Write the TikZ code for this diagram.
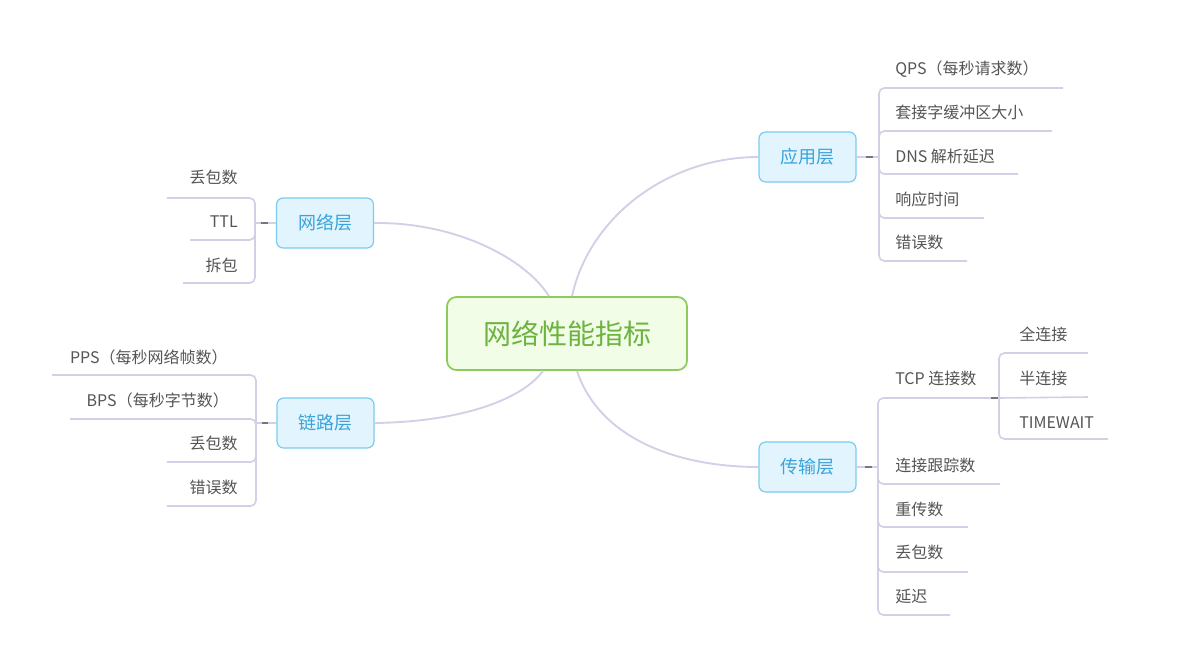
\documentclass[tikz,border=0pt]{standalone}
\usepackage{fontspec}
\setmainfont{Noto Sans CJK SC}
\usetikzlibrary{calc}
\definecolor{lav}{HTML}{D3CFE6}
\definecolor{txt}{HTML}{555555}
\definecolor{lblue}{HTML}{7CCBF0}
\definecolor{lfill}{HTML}{E2F4FD}
\definecolor{ltext}{HTML}{3AA3DB}
\definecolor{gborder}{HTML}{8DCB5C}
\definecolor{gfill}{HTML}{F1FDE6}
\definecolor{gtext}{HTML}{6CB33F}
\definecolor{knobc}{HTML}{777777}
\begin{document}
\begin{tikzpicture}[x=0.75pt,y=-0.75pt,
  lvl/.style={draw=lblue,fill=lfill,text=ltext,rounded corners=5pt,line width=0.9pt,
    minimum width=72.75pt,minimum height=37.5pt,inner sep=0pt,font=\fontsize{13.5}{16}\selectfont},
  root/.style={draw=gborder,fill=gfill,text=gtext,rounded corners=7pt,line width=1.3pt,
    minimum width=180pt,minimum height=54.75pt,inner sep=0pt,font=\fontsize{21}{25}\selectfont},
  leafL/.style={anchor=base west,text=txt,inner sep=0pt,font=\fontsize{12}{14}\selectfont},
  leafR/.style={anchor=base east,text=txt,inner sep=0pt,font=\fontsize{12}{14}\selectfont},
  branch/.style={draw=lav,line width=1.2pt,rounded corners=4pt},
  trunk/.style={draw=lav,line width=1.4pt},
  knob/.style={draw=knobc,line width=1pt}
]
\useasboundingbox (0,0) rectangle (1200,668);
\fill[white] (0,0) rectangle (1200,668);

% main nodes
\node[root] (root) at (567,333.5) {网络性能指标};
\node[lvl] (app) at (807.5,157) {应用层};
\node[lvl] (net) at (325,223) {网络层};
\node[lvl] (link) at (325.5,423) {链路层};
\node[lvl] (tr) at (807.5,467) {传输层};

% trunk curves
\draw[trunk] ([xshift=3.75pt]root.north) .. controls (590,215) and (670,157) .. (app.west);
\draw[trunk] (net.east) .. controls (455,222) and (525,258) .. ([xshift=-13.5pt]root.north);
\draw[trunk] (link.east) .. controls (455,422) and (520,402) .. ([xshift=-18pt]root.south);
\draw[trunk] ([xshift=7.5pt]root.south) .. controls (600,440) and (680,467) .. (tr.west);

% branch points
\coordinate (ab) at (879,157);
\coordinate (nb) at (255,223);
\coordinate (lb) at (256,423);
\coordinate (tb) at (878,467);
\coordinate (sb) at (999,398);

% knobs
\draw[branch] (app.east) -- (ab);
\draw[knob] ($(app.east)!0.4!(ab)$) -- ($(app.east)!0.72!(ab)$);
\draw[branch] (net.west) -- (nb);
\draw[knob] ($(net.west)!0.4!(nb)$) -- ($(net.west)!0.72!(nb)$);
\draw[branch] (link.west) -- (lb);
\draw[knob] ($(link.west)!0.4!(lb)$) -- ($(link.west)!0.72!(lb)$);
\draw[branch] (tr.east) -- (tb);
\draw[knob] ($(tr.east)!0.4!(tb)$) -- ($(tr.east)!0.72!(tb)$);

% application layer
\node[leafL] (a1) at (895,74) {QPS（每秒请求数）};
\node[leafL] (a2) at (895,118) {套接字缓冲区大小};
\node[leafL] (a3) at (895,162) {DNS 解析延迟};
\node[leafL] (a4) at (895,205) {响应时间};
\node[leafL] (a5) at (895,248) {错误数};
\coordinate (a1e) at (1063,88);
\coordinate (a2e) at (1052,131);
\coordinate (a3e) at (1018,174);
\coordinate (a4e) at (984,218);
\coordinate (a5e) at (967,261);
\foreach \e in {a1e,a2e,a3e,a4e,a5e} \draw[branch] (ab) |- (\e);

% network layer
\node[leafR] (n1) at (238,183) {丢包数};
\node[leafR] (n2) at (238,227) {TTL};
\node[leafR] (n3) at (238,271) {拆包};
\coordinate (n1e) at (167,198);
\coordinate (n2e) at (190,240);
\coordinate (n3e) at (183,283);
\foreach \e in {n1e,n2e,n3e} \draw[branch] (nb) |- (\e);

% link layer
\node[leafR] (l1) at (228,363) {PPS（每秒网络帧数）};
\node[leafR] (l2) at (229,406) {BPS（每秒字节数）};
\node[leafR] (l3) at (238,449) {丢包数};
\node[leafR] (l4) at (238,493) {错误数};
\coordinate (l1e) at (52,375);
\coordinate (l2e) at (70,419);
\coordinate (l3e) at (167,462);
\coordinate (l4e) at (167,506);
\foreach \e in {l1e,l2e,l3e,l4e} \draw[branch] (lb) |- (\e);

% transport layer
\node[leafL] (t1) at (895,384) {TCP 连接数};
\node[leafL] (t2) at (895,471) {连接跟踪数};
\node[leafL] (t3) at (895,515) {重传数};
\node[leafL] (t4) at (895,558) {丢包数};
\node[leafL] (t5) at (895,602) {延迟};
\coordinate (t1e) at (991,398);
\coordinate (t2e) at (1000,484);
\coordinate (t3e) at (968,527);
\coordinate (t4e) at (968,572);
\coordinate (t5e) at (950,615);
\foreach \e in {t1e,t2e,t3e,t4e,t5e} \draw[branch] (tb) |- (\e);
\draw[knob] (t1e) -- (sb);

% TCP sub-branch
\node[leafL] (s1) at (1019,340) {全连接};
\node[leafL] (s2) at (1019,384) {半连接};
\node[leafL] (s3) at (1019,428) {TIMEWAIT};
\coordinate (s1e) at (1088,353);
\coordinate (s2e) at (1088,397);
\coordinate (s3e) at (1108,439);
\foreach \e in {s1e,s3e} \draw[branch] (sb) |- (\e);
\draw[branch] (sb) -- (s2e);
\end{tikzpicture}
\end{document}
